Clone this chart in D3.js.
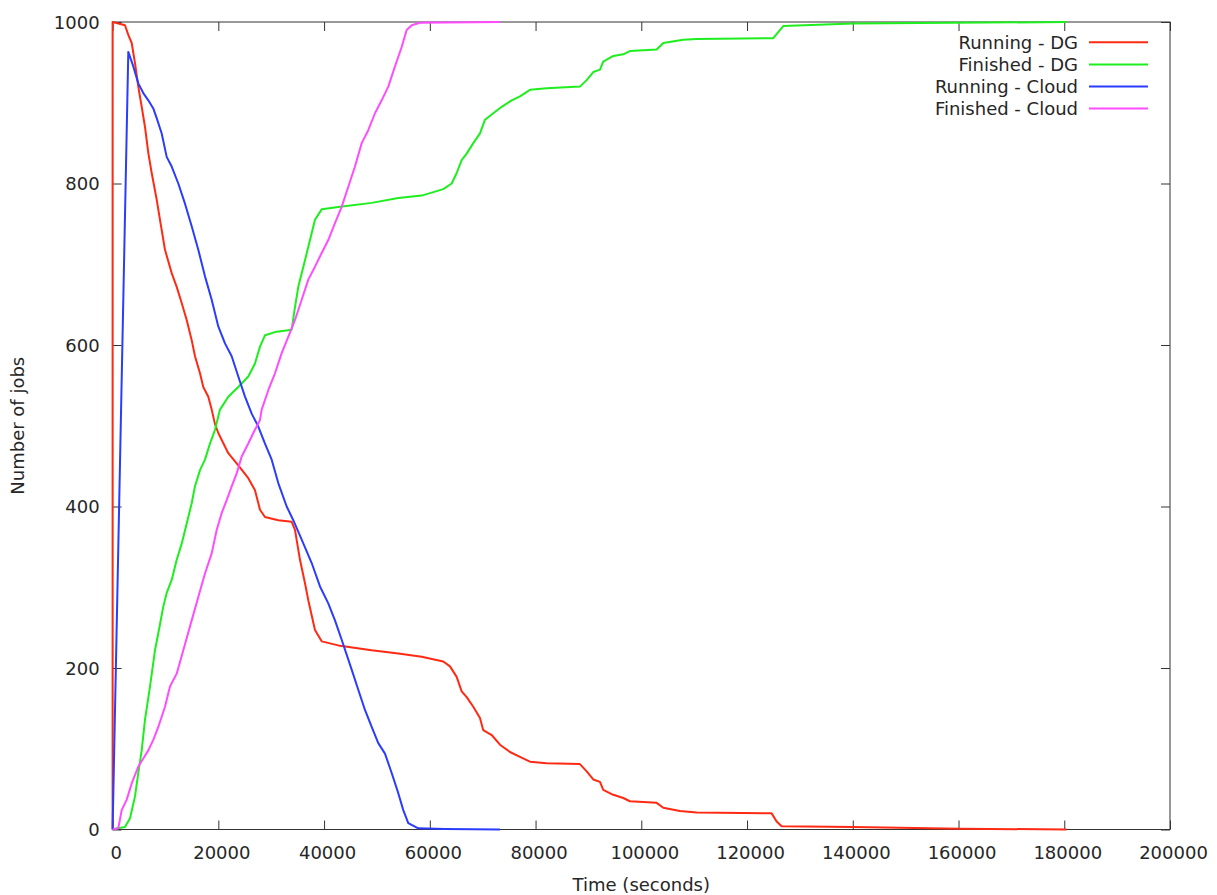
<!DOCTYPE html>
<html>
<head>
<meta charset="utf-8">
<script src="https://cdn.jsdelivr.net/npm/d3@7"></script>
<style>
  html, body { margin: 0; padding: 0; background: #fff; }
  svg { display: block; }
  text { font-family: "DejaVu Sans", sans-serif; fill: #262626; }
</style>
</head>
<body>
<svg id="chart" width="1217" height="895"></svg>
<script>
// ---- Data (time in seconds, number of jobs) ----
const runningDG = [
  [0,0],[0,1000],[2345,996],[2969,984],[3612,974],[4237,949],[4861,920],[5504,895],[6128,870],
  [6752,838],[7395,813],[8341,780],[8965,755],[9910,718],[11178,689],[12123,672],[13069,652],
  [14015,631],[14960,606],[15584,586],[16530,565],[17154,548],[18100,536],[18743,520],[19367,502],
  [19991,491],[21882,466],[23774,451],[25665,435],[26932,420],[27878,396],[28823,387],[31339,383],
  [33873,381],[34497,371],[35443,334],[36389,305],[37013,284],[38280,247],[39547,233],[42687,228],
  [49004,222],[54035,218],[58460,214],[62546,208],[63812,202],[65080,189],[66025,171],[66971,164],
  [68220,152],[69487,138],[70110,123],[71700,117],[73269,105],[75160,96],[77052,90],[78943,84],
  [82101,82],[88399,81],[89666,72],[90915,62],[92182,59],[92806,49],[94697,43],[96589,39],
  [97856,35],[102906,33],[104155,27],[107312,23],[110471,21],[124655,20],[125600,10],[126546,4],
  [140089,3],[160268,1],[180450,0]
];
const finishedDG = [
  [0,0],[454,1],[2345,3],[3291,14],[4237,41],[4861,70],[5504,98],[6128,136],[7073,177],[8019,222],
  [8643,243],[9589,276],[10232,293],[11178,309],[12123,334],[13069,354],[14015,379],[14960,404],
  [15584,425],[16530,445],[17475,458],[18421,478],[19367,495],[20312,520],[21882,536],[23774,548],
  [25665,561],[26932,577],[27878,598],[28823,612],[30714,616],[33873,619],[34497,647],[35121,672],
  [36389,705],[37334,730],[38280,755],[39547,768],[42687,771],[49004,776],[54035,782],[58460,785],
  [62546,793],[64134,800],[65080,813],[66025,829],[66971,837],[68220,850],[69487,862],[70432,879],
  [72002,887],[73591,895],[75482,903],[77052,908],[78943,916],[82101,918],[88399,920],[89666,928],
  [90915,938],[92182,941],[92806,951],[94697,958],[96589,960],[97856,964],[102906,966],[104155,974],
  [107938,978],[110471,979],[124333,980],[124957,980],[126848,995],[140089,998],[180450,1000]
];
const runningCloud = [
  [0,0],[2970,963],[3915,945],[4861,924],[5806,912],[6752,903],[7698,893],[8341,881],[9287,862],
  [10232,833],[11178,821],[12426,800],[13693,775],[14960,747],[16208,718],[17475,685],[18743,656],
  [19991,623],[21258,602],[22525,586],[23774,561],[25041,536],[26308,515],[27556,499],[28823,478],
  [30090,458],[31339,429],[32928,400],[34176,383],[35764,359],[37656,330],[39225,301],[40795,280],
  [42062,259],[43329,235],[45220,198],[46468,173],[47735,148],[49004,127],[50252,107],[51519,94],
  [52786,70],[54035,45],[54981,24],[55926,8],[57817,1.5],[62868,0.6],[73269,0]
];
const finishedCloud = [
  [0,0],[1078,1.5],[1721,24],[2667,37],[3612,57],[4861,78],[5806,88],[6752,98],[7698,111],[8643,127],
  [9910,152],[10856,177],[12123,193],[13372,222],[14960,259],[16208,288],[17475,317],[18743,342],
  [19688,371],[20634,392],[21580,408],[22525,425],[23471,441],[24417,462],[25665,478],[26611,491],
  [27878,507],[28199,520],[29448,544],[30714,565],[31982,590],[33230,610],[34497,631],[35764,656],
  [37013,681],[38280,697],[39547,714],[40795,730],[42062,751],[43329,771],[44578,796],[45845,821],
  [47112,850],[48360,866],[49627,887],[50894,903],[52143,920],[53410,945],[54677,969],[55623,990],
  [56569,996],[58138,999],[73269,1000]
];
const seriesNames = ["Running - DG", "Finished - DG", "Running - Cloud", "Finished - Cloud"];
const seriesColors = ["#ff2a14", "#1eee1e", "#2a3cff", "#ff4cff"];
const xTicks = [0, 20000, 40000, 60000, 80000, 100000, 120000, 140000, 160000, 180000, 200000];
const yTicks = [0, 200, 400, 600, 800, 1000];
const xTitle = "Time (seconds)";
const yTitle = "Number of jobs";

// ---- Layout ----
const svg = d3.select("#chart");
const L = 112.6, R = 1170, T = 22, B = 829.5;
const x = d3.scaleLinear().domain([0, 200000]).range([L, R]);
const y = d3.scaleLinear().domain([0, 1000]).range([B, T]);
const axisColor = "#333";
const tickLen = 9;

// Frame
svg.append("rect")
  .attr("x", L).attr("y", T).attr("width", R - L).attr("height", B - T)
  .attr("fill", "none").attr("stroke", axisColor).attr("stroke-width", 1);

// Axes (inward ticks, mirrored)
const gx = svg.append("g").attr("transform", `translate(0,${B})`)
  .call(d3.axisBottom(x).tickValues(xTicks).tickSize(-tickLen).tickPadding(17).tickFormat(d3.format("d")));
const gxTop = svg.append("g").attr("transform", `translate(0,${T})`)
  .call(d3.axisTop(x).tickValues(xTicks).tickSize(-tickLen).tickFormat(""));
const gy = svg.append("g").attr("transform", `translate(${L},0)`)
  .call(d3.axisLeft(y).tickValues(yTicks).tickSize(-tickLen).tickPadding(13).tickFormat(d3.format("d")));
const gyR = svg.append("g").attr("transform", `translate(${R},0)`)
  .call(d3.axisRight(y).tickValues(yTicks).tickSize(-tickLen).tickFormat(""));

[gx, gxTop, gy, gyR].forEach(g => {
  g.select(".domain").remove();
  g.selectAll(".tick line").attr("stroke", axisColor);
  g.selectAll(".tick text").attr("font-size", 18).attr("font-family", "DejaVu Sans, sans-serif").attr("fill", "#262626");
});
gx.selectAll(".tick text").attr("dx", 3);
gy.selectAll(".tick text").attr("dy", "0.34em");

// Axis titles
svg.append("text").attr("x", (L + R) / 2).attr("y", 891).attr("text-anchor", "middle")
  .attr("font-size", 18).text(xTitle);
svg.append("text").attr("transform", `translate(24,${(T + B) / 2}) rotate(-90)`)
  .attr("text-anchor", "middle").attr("font-size", 18).text(yTitle);

// Lines
const line = d3.line().x(d => x(d[0])).y(d => y(d[1]));
const allSeries = [runningDG, finishedDG, runningCloud, finishedCloud];
allSeries.forEach((s, i) => {
  svg.append("path").datum(s).attr("d", line)
    .attr("fill", "none").attr("stroke", seriesColors[i]).attr("stroke-width", 2)
    .attr("stroke-linejoin", "round");
});

// Legend
const leg = svg.append("g");
seriesNames.forEach((name, i) => {
  const yy = 42.3 + i * 22.1;
  leg.append("text").attr("x", 1078).attr("y", yy).attr("dy", "0.35em")
    .attr("text-anchor", "end").attr("font-size", 18).text(name);
  leg.append("line").attr("x1", 1089).attr("x2", 1148).attr("y1", yy).attr("y2", yy)
    .attr("stroke", seriesColors[i]).attr("stroke-width", 2);
});
</script>
</body>
</html>
